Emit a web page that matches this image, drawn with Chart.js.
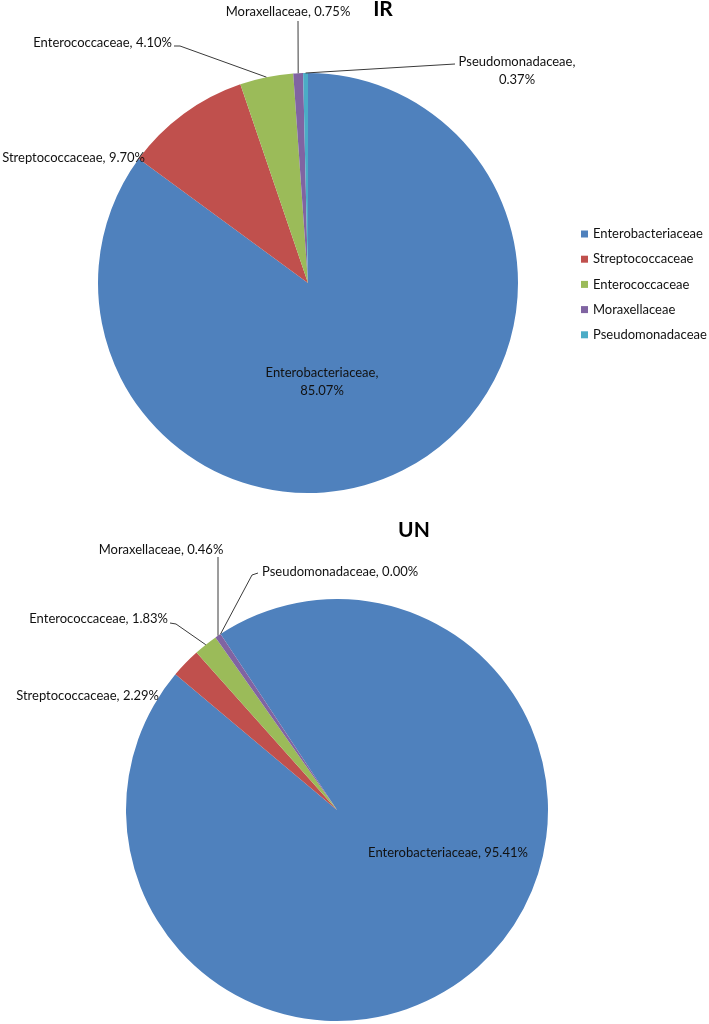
<!DOCTYPE html>
<html>
<head>
<meta charset="utf-8">
<title>IR / UN</title>
<script src="https://cdn.jsdelivr.net/npm/chart.js@4/dist/chart.umd.min.js"></script>
<style>
  body { margin: 0; background: #fff; }
  canvas { position: absolute; left: 0; }
</style>
</head>
<body>
<canvas id="irChart" width="709" height="505" style="top:0"></canvas>
<canvas id="unChart" width="709" height="519" style="top:505px"></canvas>
<script>
// data
const families = ["Enterobacteriaceae", "Streptococcaceae", "Enterococcaceae", "Moraxellaceae", "Pseudomonadaceae"];
const irValues = [85.07, 9.70, 4.10, 0.75, 0.37];
const unValues = [95.41, 2.29, 1.83, 0.46, 0.00];
const sliceColors = ["#4F81BD", "#C0504D", "#9BBB59", "#8064A2", "#4BACC6"];

const FONT = "Lato, 'Liberation Sans', sans-serif";
const FONT_SIZE = 13;
const TEXT_COLOR = "#111";
const LINE_COLOR = "#3a3a3a";

// where each data label sits (canvas px), leader = bend points after the slice edge
const irSpots = [
  { x: 322, y: 373, align: "center", split: true },
  { x: 145, y: 158, align: "right" },
  { x: 172, y: 43, align: "right", leader: [[180, 46], [174, 46]] },
  { x: 288, y: 12, align: "center", leader: [[298, 21]] },
  { x: 517, y: 62, align: "center", split: true, leader: [[455, 64]] }
];
const unSpots = [
  { x: 448, y: 348, align: "center" },
  { x: 159, y: 191, align: "right" },
  { x: 168, y: 114, align: "right", leader: [[176, 119], [170, 118]] },
  { x: 161, y: 45, align: "center", leader: [[218, 52]] },
  { x: 262, y: 67, align: "left", leader: [[252, 70], [258, 68]] }
];

function labelPlugin(title, titleX, titleY, spots, withLegend) {
  return {
    id: "pieLabels",
    afterDraw(chart) {
      const ctx = chart.ctx;
      const arcs = chart.getDatasetMeta(0).data;
      const values = chart.data.datasets[0].data;
      ctx.save();
      ctx.textBaseline = "middle";

      // leader lines
      ctx.strokeStyle = LINE_COLOR;
      ctx.lineWidth = 1;
      spots.forEach((spot, i) => {
        if (!spot.leader) return;
        const arc = arcs[i];
        const mid = (arc.startAngle + arc.endAngle) / 2;
        ctx.beginPath();
        ctx.moveTo(arc.x + Math.cos(mid) * arc.outerRadius, arc.y + Math.sin(mid) * arc.outerRadius);
        spot.leader.forEach(p => ctx.lineTo(p[0], p[1]));
        ctx.stroke();
      });

      // labels
      ctx.font = FONT_SIZE + "px " + FONT;
      ctx.fillStyle = TEXT_COLOR;
      spots.forEach((spot, i) => {
        const pct = values[i].toFixed(2) + "%";
        ctx.textAlign = spot.align;
        if (spot.split) {
          ctx.fillText(chart.data.labels[i] + ",", spot.x, spot.y);
          ctx.fillText(pct, spot.x, spot.y + 18);
        } else {
          ctx.fillText(chart.data.labels[i] + ", " + pct, spot.x, spot.y);
        }
      });

      // title
      ctx.font = "bold 21px " + FONT;
      ctx.fillStyle = "#000";
      ctx.textAlign = "center";
      ctx.fillText(title, titleX, titleY);

      // legend
      if (withLegend) {
        ctx.font = FONT_SIZE + "px " + FONT;
        ctx.textAlign = "left";
        chart.data.labels.forEach((name, i) => {
          const y = 234 + i * 25.2;
          ctx.fillStyle = sliceColors[i];
          ctx.fillRect(581, y - 3.5, 7, 7);
          ctx.fillStyle = TEXT_COLOR;
          ctx.fillText(name, 593, y);
        });
      }
      ctx.restore();
    }
  };
}

function makePie(id, values, rotation, padding, plugin) {
  return new Chart(document.getElementById(id).getContext("2d"), {
    type: "pie",
    data: {
      labels: families,
      datasets: [{
        data: values,
        backgroundColor: sliceColors,
        borderWidth: 0,
        hoverOffset: 0,
        offset: 0
      }]
    },
    options: {
      responsive: false,
      animation: false,
      events: [],
      rotation: rotation,
      layout: { padding: padding },
      plugins: {
        legend: { display: false },
        tooltip: { enabled: false },
        title: { display: false }
      }
    },
    plugins: [plugin]
  });
}

makePie("irChart", irValues, 0,
  { left: 98, right: 191, top: 73, bottom: 12 },
  labelPlugin("IR", 383, 9, irSpots, true));

makePie("unChart", unValues, -33.5,
  { left: 126, right: 161, top: 94, bottom: 3 },
  labelPlugin("UN", 414, 25, unSpots, false));
</script>
</body>
</html>
